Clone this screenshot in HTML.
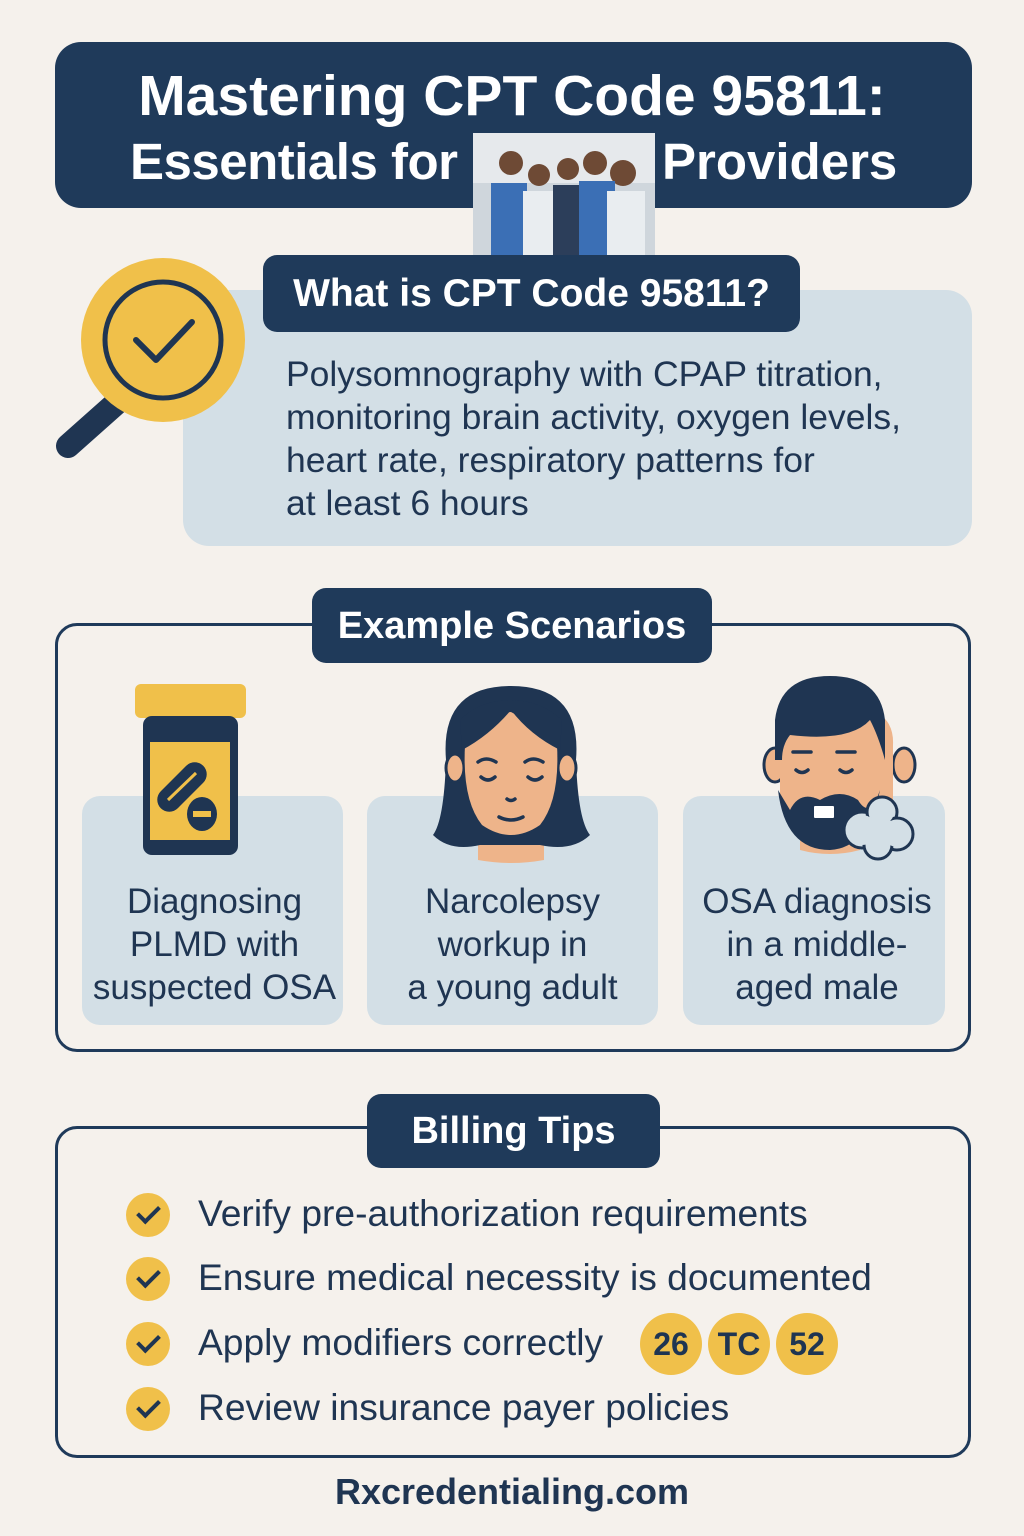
<!DOCTYPE html>
<html><head><meta charset="utf-8"><style>
body{margin:0;width:1024px;height:1536px;background:#f5f1ec;font-family:"Liberation Sans","DejaVu Sans",sans-serif;position:relative;overflow:hidden;color:#1f3552}
.abs{position:absolute}
.navy{background:#1f3a5a;color:#fff}
.t{position:absolute;white-space:nowrap}
.card{position:absolute;background:#d3dfe6;border-radius:18px;top:796px;height:229px}
.ct{position:absolute;top:880px;text-align:center;font-size:35px;line-height:43px;color:#1f3552}
.chk{position:absolute;left:126px;width:44px;height:44px;border-radius:50%;background:#f0c04a}
.chk:after{content:"";position:absolute;left:16px;top:8px;width:9px;height:18px;border:solid #1f3552;border-width:0 4px 4px 0;transform:rotate(45deg)}
.tip{position:absolute;left:198px;font-size:37.2px;line-height:44px;white-space:nowrap}
.bd{position:absolute;top:1313px;width:62px;height:62px;border-radius:50%;background:#f0c04a;font-weight:bold;font-size:32px;line-height:62px;text-align:center}
</style></head><body>
<div class="abs navy" style="left:55px;top:42px;width:917px;height:166px;border-radius:26px"></div>
<div class="t" style="left:0;width:1024px;top:63px;text-align:center;color:#fff;font-weight:bold;font-size:57px;line-height:66px">Mastering CPT Code 95811:</div>
<div class="t" style="left:130px;top:129px;color:#fff;font-weight:bold;font-size:51px;line-height:66px;letter-spacing:-0.5px">Essentials for</div>
<div class="t" style="left:662px;top:129px;color:#fff;font-weight:bold;font-size:51px;line-height:66px">Providers</div>
<svg class="abs" style="left:473px;top:133px" width="182" height="122">
<rect width="182" height="122" fill="#cfd6dc"/><rect y="0" width="182" height="50" fill="#e6e9ec"/>
<g fill="#6e4a35"><circle cx="38" cy="30" r="12"/><circle cx="66" cy="42" r="11"/><circle cx="95" cy="36" r="11"/><circle cx="122" cy="30" r="12"/><circle cx="150" cy="40" r="13"/></g>
<rect x="18" y="50" width="36" height="72" fill="#3b6fb5"/><rect x="50" y="58" width="32" height="64" fill="#e9edf0"/><rect x="80" y="52" width="32" height="70" fill="#2c3e5a"/><rect x="106" y="48" width="36" height="74" fill="#3b6fb5"/><rect x="134" y="58" width="38" height="64" fill="#e9edf0"/>
</svg>
<div class="abs" style="left:183px;top:290px;width:789px;height:256px;border-radius:26px;background:#d3dfe6"></div>
<svg class="abs" style="left:50px;top:250px" width="200" height="215">
<line x1="72" y1="148" x2="18" y2="196" stroke="#1f3552" stroke-width="24" stroke-linecap="round"/>
<circle cx="113" cy="90" r="82" fill="#f0c04a"/>
<circle cx="113" cy="90" r="58" fill="none" stroke="#1f3552" stroke-width="5"/>
<polyline points="86,90 106,110 142,72" fill="none" stroke="#1f3552" stroke-width="6" stroke-linecap="round" stroke-linejoin="round"/>
</svg>
<div class="abs navy" style="left:263px;top:255px;width:537px;height:77px;border-radius:14px"></div>
<div class="t" style="left:263px;width:537px;top:270px;text-align:center;color:#fff;font-weight:bold;font-size:39px;line-height:48px">What is CPT Code 95811?</div>
<div class="t" style="left:286px;top:353px;font-size:35.5px;line-height:43px">Polysomnography with CPAP titration,<br>monitoring brain activity, oxygen levels,<br>heart rate, respiratory patterns for<br>at least 6 hours</div>

<div class="abs" style="left:55px;top:623px;width:910px;height:423px;border:3px solid #1f3a5a;border-radius:22px"></div>
<div class="abs navy" style="left:312px;top:588px;width:400px;height:75px;border-radius:14px"></div>
<div class="t" style="left:312px;width:400px;top:603px;text-align:center;color:#fff;font-weight:bold;font-size:38px;line-height:46px">Example Scenarios</div>
<div class="card" style="left:82px;width:261px"></div>
<div class="card" style="left:367px;width:291px"></div>
<div class="card" style="left:683px;width:262px"></div>
<svg class="abs" style="left:0;top:0" width="1024" height="1536">
<rect x="135" y="684" width="111" height="34" rx="6" fill="#f0c04a"/>
<rect x="143" y="716" width="95" height="139" rx="9" fill="#1f3552"/>
<rect x="150" y="742" width="80" height="98" fill="#f0c04a"/>
<g transform="rotate(45 182 787)"><rect x="170" y="757" width="24" height="60" rx="12" fill="#1f3552"/></g>
<line x1="168" y1="800" x2="196" y2="773" stroke="#f0c04a" stroke-width="3"/>
<ellipse cx="202" cy="814" rx="15" ry="17" fill="#1f3552"/><rect x="193" y="811" width="18" height="6" fill="#f0c04a"/>
<path d="M478 860 L478 820 L544 820 L544 860 Q511 866 478 860Z" fill="#eeb48a"/>
<path d="M511 686 Q440 686 446 760 Q444 820 433 835 Q450 852 480 845 L540 845 Q572 852 590 835 Q578 820 576 760 Q582 686 511 686Z" fill="#1f3552"/>
<ellipse cx="455" cy="768" rx="9" ry="14" fill="#eeb48a" stroke="#1f3552" stroke-width="3"/>
<ellipse cx="567" cy="768" rx="9" ry="14" fill="#eeb48a" stroke="#1f3552" stroke-width="3"/>
<path d="M465 745 Q468 715 511 712 Q545 730 557 745 Q560 800 540 825 Q511 845 482 825 Q462 800 465 745Z" fill="#eeb48a"/>
<path d="M462 750 Q490 735 511 710 Q530 735 560 750 L562 720 Q540 700 511 700 Q480 700 460 720Z" fill="#1f3552"/>
<g stroke="#1f3552" stroke-width="3.5" fill="none" stroke-linecap="round"><path d="M478 762 q8 -6 18 0"/><path d="M525 762 q8 -6 18 0"/><path d="M481 777 q7 6 14 0"/><path d="M528 777 q7 6 14 0"/><path d="M499 817 q12 6 24 0"/><path d="M507 799 q4 3 8 0"/></g>
<ellipse cx="775" cy="765" rx="11" ry="17" fill="#eeb48a" stroke="#1f3552" stroke-width="3"/>
<ellipse cx="904" cy="765" rx="11" ry="17" fill="#eeb48a" stroke="#1f3552" stroke-width="3"/>
<path d="M800 820 L800 850 Q830 858 860 850 L860 820Z" fill="#eeb48a"/>
<path d="M780 745 Q780 705 840 705 Q895 705 893 745 L893 800 Q880 840 840 845 Q790 840 780 800Z" fill="#eeb48a"/>
<path d="M775 760 L775 720 Q780 676 830 676 Q880 676 885 720 L885 760 Q878 735 870 720 Q850 742 790 735 Q782 745 782 760Z" fill="#1f3552"/>
<path d="M778 790 Q785 850 830 850 Q868 848 880 790 Q870 820 858 800 Q840 788 820 800 Q800 790 790 810Z" fill="#1f3552"/>
<rect x="813" y="805" width="22" height="14" rx="2" fill="#fff" stroke="#1f3552" stroke-width="2"/>
<g stroke="#1f3552" stroke-width="3.5" fill="none" stroke-linecap="round"><path d="M793 752 h18"/><path d="M837 752 h18"/><path d="M796 770 q6 5 12 0"/><path d="M840 770 q6 5 12 0"/></g>
<g fill="#d3dfe6" stroke="#1f3552" stroke-width="3"><circle cx="862" cy="830" r="18"/><circle cx="882" cy="812" r="15"/><circle cx="897" cy="834" r="16"/><circle cx="878" cy="845" r="14"/></g>
<g fill="#d3dfe6"><circle cx="862" cy="830" r="15"/><circle cx="882" cy="812" r="12"/><circle cx="897" cy="834" r="13"/><circle cx="878" cy="845" r="11"/><circle cx="880" cy="830" r="14"/></g>
</svg>
<div class="ct" style="left:82px;width:265px">Diagnosing<br>PLMD with<br>suspected OSA</div>
<div class="ct" style="left:367px;width:291px">Narcolepsy<br>workup in<br>a young adult</div>
<div class="ct" style="left:683px;width:268px">OSA diagnosis<br>in a middle-<br>aged male</div>

<div class="abs" style="left:55px;top:1126px;width:910px;height:326px;border:3px solid #1f3a5a;border-radius:22px"></div>
<div class="abs navy" style="left:367px;top:1094px;width:293px;height:74px;border-radius:14px"></div>
<div class="t" style="left:367px;width:293px;top:1108px;text-align:center;color:#fff;font-weight:bold;font-size:38px;line-height:46px">Billing Tips</div>
<div class="chk" style="top:1193px"></div><div class="tip" style="top:1191px">Verify pre-authorization requirements</div>
<div class="chk" style="top:1257px"></div><div class="tip" style="top:1255px">Ensure medical necessity is documented</div>
<div class="chk" style="top:1322px"></div><div class="tip" style="top:1320px">Apply modifiers correctly</div>
<div class="chk" style="top:1387px"></div><div class="tip" style="top:1385px">Review insurance payer policies</div>
<div class="bd" style="left:640px">26</div><div class="bd" style="left:708px">TC</div><div class="bd" style="left:776px">52</div>
<div class="t" style="left:0;width:1024px;top:1470px;text-align:center;font-weight:bold;font-size:36px;line-height:44px">Rxcredentialing.com</div>
</body></html>
